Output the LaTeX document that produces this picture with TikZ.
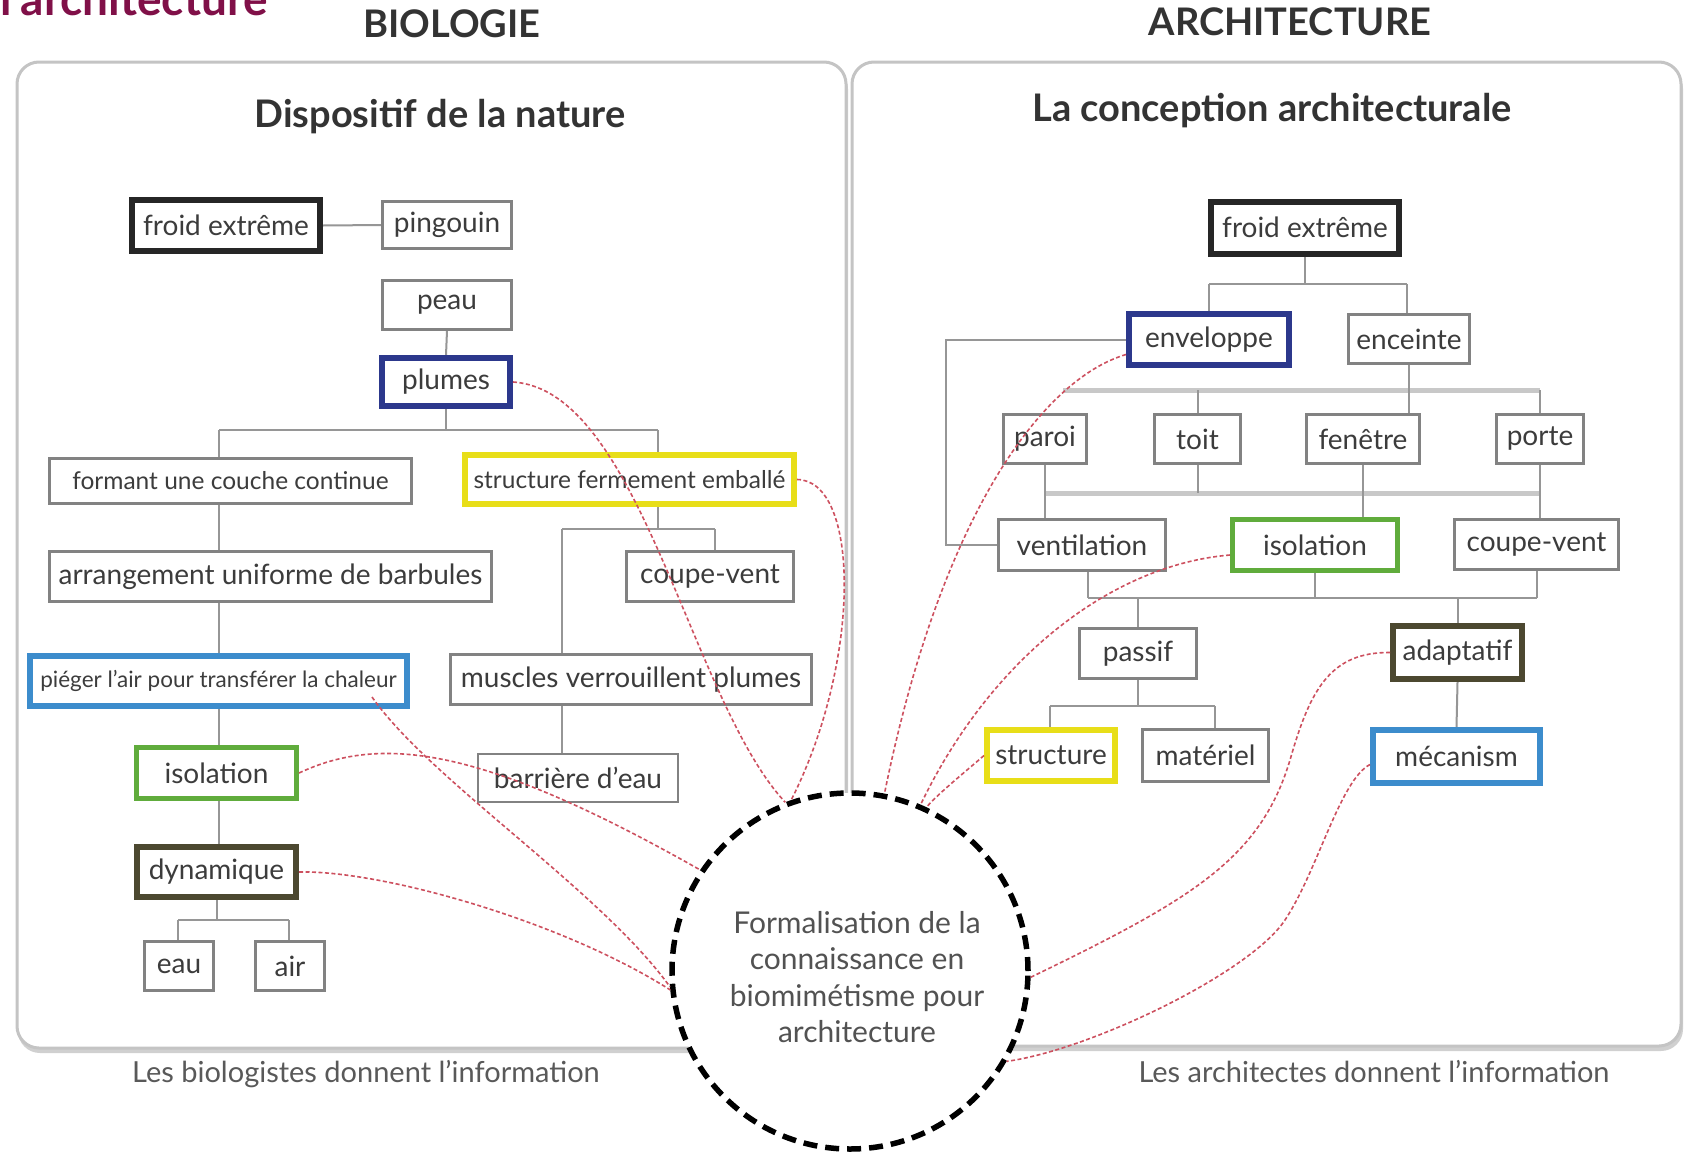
\documentclass[tikz,border=0pt]{standalone}
\usepackage{fontspec}
\setmainfont{Lato}
\usetikzlibrary{calc}
\pgfdeclarelayer{bg}
\pgfdeclarelayer{lines}
\pgfsetlayers{bg,lines,main}
\definecolor{gline}{RGB}{150,150,150}
\definecolor{glight}{RGB}{200,200,200}
\definecolor{gbox}{RGB}{130,130,130}
\definecolor{navy}{RGB}{44,56,140}
\definecolor{ylw}{RGB}{232,222,24}
\definecolor{grn}{RGB}{96,172,60}
\definecolor{lblue}{RGB}{60,140,204}
\definecolor{olive}{RGB}{76,72,48}
\definecolor{redl}{RGB}{205,80,95}
\definecolor{crim}{RGB}{128,16,72}
\definecolor{txt}{RGB}{60,60,60}
\definecolor{panelc}{RGB}{196,196,196}
\newcommand{\fsz}[2]{\fontsize{#1}{#2}\selectfont}
\begin{document}
\begin{tikzpicture}[x=1pt,y=-1pt,
  wh/.style 2 args={minimum width=#1pt,minimum height=#2pt},
  box/.style={draw=gbox, line width=2.5pt, fill=white, text=txt, inner sep=0pt, font=\fsz{28}{32}},
  bk/.style={box, draw=black!85, line width=6pt},
  bl/.style={box, draw=navy, line width=6pt},
  yl/.style={box, draw=ylw, line width=6pt},
  gr/.style={box, draw=grn, line width=5pt},
  lb/.style={box, draw=lblue, line width=6pt},
  ol/.style={box, draw=olive, line width=6pt},
  tree/.style={draw=gline, line width=2pt},
  treeb/.style={draw=glight, line width=5pt},
  link/.style={draw=redl, line width=1.6pt, dash pattern=on 4pt off 2.5pt},
  panel/.style={draw=panelc, line width=3pt, fill=white, rounded corners=22pt},
  panelshadow/.style={fill=panelc!80, rounded corners=22pt},
  headtxt/.style={font=\bfseries\fsz{38}{42}, text=black!80, inner sep=0pt},
  captxt/.style={font=\fsz{29}{33}, text=black!65, inner sep=0pt}
]
\clip (0,0) rectangle (1685,1151);

% background and panels
\begin{pgfonlayer}{bg}
\fill[white] (0,0) rectangle (1685,1151);
\fill[panelshadow] (18,67) rectangle (848,1053);
\draw[panel] (17,62) rectangle (846,1048);
\fill[panelshadow] (853,67) rectangle (1683,1051);
\draw[panel] (852,62) rectangle (1681,1046);
\end{pgfonlayer}

% titles
\node[anchor=base west, text=crim, font=\bfseries\fsz{46}{50}, inner sep=0pt] (title) at (0,16) {l'architecture};
\node[headtxt] (hbio) at (452,24) {BIOLOGIE};
\node[headtxt] (harch) at (1290,22) {ARCHITECTURE};
\node[headtxt] (tnat) at (440,117) {Dispositif de la nature};
\node[headtxt] (tarch) at (1272,111) {La conception architecturale};
\node[captxt] (cbio) at (366,1074) {Les biologistes donnent l'information};
\node[captxt] (carch) at (1374,1072) {Les architectes donnent l'information};

% left nodes
\node[bk, wh={188}{51}] (lfroid) at (226,225.5) {froid extrême};
\node[box, wh={129}{47}] (pingouin) at (447,225) {pingouin};
\node[box, wh={129}{49}] (peau) at (447,305) {peau};
\node[bl, wh={128}{48}] (plumes) at (446,382) {plumes};
\node[box, wh={362}{45}, font=\fsz{24.5}{28}] (formant) at (230.5,481) {formant une couche continue};
\node[yl, wh={329}{49}, font=\fsz{24.5}{28}] (structferm) at (629.5,479.5) {structure fermement emballé};
\node[box, wh={442}{50}] (arrangement) at (270.5,576.5) {arrangement uniforme de barbules};
\node[box, wh={167}{50}] (lcoupe) at (710,576.5) {coupe-vent};
\node[box, wh={361}{50}] (muscles) at (631,679.5) {muscles verrouillent plumes};
\node[lb, wh={377}{50}, font=\fsz{22.5}{26}] (pieger) at (218.5,681) {piéger l'air pour transférer la chaleur};
\node[gr, wh={160}{51}] (lisolation) at (216.5,773) {isolation};
\node[box, wh={200}{48}] (barriere) at (578,778) {barrière d'eau};
\node[ol, wh={159}{50}] (dynamique) at (216.5,872) {dynamique};
\node[box, wh={69}{49}] (eau) at (179,966) {eau};
\node[box, wh={69}{49}] (air) at (290,966) {air};

% right nodes
\node[bk, wh={188}{52}] (rfroid) at (1305,227.5) {froid extrême};
\node[bl, wh={160}{51}] (enveloppe) at (1209,339.5) {enveloppe};
\node[box, wh={121}{49}] (enceinte) at (1409,339) {enceinte};
\node[box, wh={83}{49}] (paroi) at (1045,439) {paroi};
\node[box, wh={86}{49}] (toit) at (1197.5,439) {toit};
\node[box, wh={113}{49}] (fenetre) at (1363,439) {fenêtre};
\node[box, wh={87}{49}] (porte) at (1540,439) {porte};
\node[box, wh={167}{51}] (ventilation) at (1082,545) {ventilation};
\node[gr, wh={165}{51}] (risolation) at (1315,545) {isolation};
\node[box, wh={164}{50}] (rcoupe) at (1536.5,544.5) {coupe-vent};
\node[box, wh={117}{50}] (passif) at (1138,653.5) {passif};
\node[ol, wh={129}{53}] (adaptatif) at (1457.5,652.5) {adaptatif};
\node[yl, wh={128}{51}] (rstructure) at (1051,755.5) {structure};
\node[box, wh={126}{52}] (materiel) at (1205.5,755.5) {matériel};
\node[lb, wh={167}{53}] (mecanism) at (1456.5,756.5) {mécanism};

% centre circle
\node[circle, draw=black, line width=5.5pt, dash pattern=on 14pt off 8pt, fill=white,
      minimum size=356pt, inner sep=0pt] (circ) at (850,971) {};
\node[font=\fsz{30}{36.5}, text=black!68, align=center, inner sep=0pt] (ctext) at (857,977)
  {Formalisation de la\\connaissance en\\biomimétisme pour\\architecture};

% tree lines
\coordinate (L1) at (219,430);
\coordinate (L2) at (658,430);
\coordinate (D1) at (178,920);
\coordinate (D2) at (289,920);
\coordinate (G1) at (562,529);
\coordinate (G2) at (715,529);
\coordinate (G3) at (658,529);
\coordinate (R1) at (1209,284);
\coordinate (R2) at (1407,284);
\coordinate (E1) at (946,340);
\coordinate (H2) at (1063,390);
\coordinate (H3) at (1045,493);
\coordinate (V1) at (1088,598);
\coordinate (P1) at (1050,706);
\coordinate (P2) at (1215,706);
\begin{pgfonlayer}{lines}
\draw[tree] (lfroid.east) -- (pingouin.west);
\draw[tree] (peau.south) -- (plumes.north);
\draw[tree] (plumes.south) -- (plumes.south |- L1);
\draw[tree] (L1) -- (L2);
\draw[tree] (L2) -- (L2 |- structferm.north);
\draw[tree] (L1) -- (L1 |- dynamique.north);
\draw[tree] (dynamique.south) -- (dynamique.south |- D1);
\draw[tree] (D1) -- (D2);
\draw[tree] (D1) -- (D1 |- eau.north);
\draw[tree] (D2) -- (D2 |- air.north);
\draw[tree] (G3 |- structferm.south) -- (G3);
\draw[tree] (G1) -- (G2);
\draw[tree] (G2) -- (G2 |- lcoupe.north);
\draw[tree] (G1) -- (G1 |- barriere.north);
% right
\draw[tree] (rfroid.south) -- (rfroid.south |- R1);
\draw[tree] (R1) -- (R2);
\draw[tree] (R1) -- (R1 |- enveloppe.north);
\draw[tree] (R2) -- (R2 |- enceinte.north);
\draw[tree] (enveloppe.west) -- (E1 |- enveloppe.west) -- (E1 |- ventilation.west) -- (ventilation.west);
\draw[treeb] (H2) -- (H2 -| porte.north);
\draw[tree] (toit.north) -- (toit.north |- H2);
\draw[tree] (porte.north) -- (porte.north |- H2);
\draw[tree] (enceinte.south) -- (enceinte.south |- fenetre.north);
\draw[treeb] (H3) -- (H3 -| porte.south);
\draw[tree] (paroi.south) -- (paroi.south |- ventilation.north);
\draw[tree] (toit.south) -- (toit.south |- H3);
\draw[tree] (fenetre.south) -- (fenetre.south |- risolation.north);
\draw[tree] (porte.south) -- (porte.south |- rcoupe.north);
\draw[tree] (V1 |- ventilation.south) -- (V1);
\draw[tree] (V1) -- (V1 -| rcoupe.south);
\draw[tree] (risolation.south) -- (risolation.south |- V1);
\draw[tree] (rcoupe.south) -- (rcoupe.south |- V1);
\draw[tree] (passif.north) -- (passif.north |- V1);
\draw[tree] (adaptatif.north) -- (adaptatif.north |- V1);
\draw[tree] (passif.south) -- (passif.south |- P1);
\draw[tree] (P1) -- (P2);
\draw[tree] (P1) -- (P1 |- rstructure.north);
\draw[tree] (P2) -- (P2 |- materiel.north);
\draw[tree] (adaptatif.south) -- (mecanism.north);
\end{pgfonlayer}

% red links
\draw[link] (plumes.east) .. controls (640,390) and (690,700) .. (circ.111);
\draw[link] (structferm.east) .. controls (860,480) and (862,660) .. (circ.109);
\draw[link] ([xshift=-38pt,yshift=12pt]pieger.south east) .. controls (430,780) and (600,890) .. (circ.185);
\draw[link] (lisolation.east) .. controls (380,735) and (480,745) .. (circ.146);
\draw[link] (dynamique.east) .. controls (380,870) and (560,920) .. (circ.186);
\draw[link] ([yshift=-15pt]enveloppe.west) .. controls (1040,380) and (940,520) .. (circ.79);
\draw[link] ([yshift=-10pt]risolation.west) .. controls (1110,565) and (990,660) .. (circ.67);
\draw[link] (rstructure.west) .. controls (965,772) and (940,792) .. (circ.65);
\draw[link] (adaptatif.west) .. controls (1330,652) and (1310,690) .. (1290,760)
   .. controls (1260,860) and (1190,900) .. (circ.-2);
\draw[link] ([yshift=-8pt]mecanism.west) .. controls (1340,780) and (1318,870) .. (1285,920)
   .. controls (1250,973) and (1090,1050) .. (circ.-30);
\end{tikzpicture}
\end{document}
